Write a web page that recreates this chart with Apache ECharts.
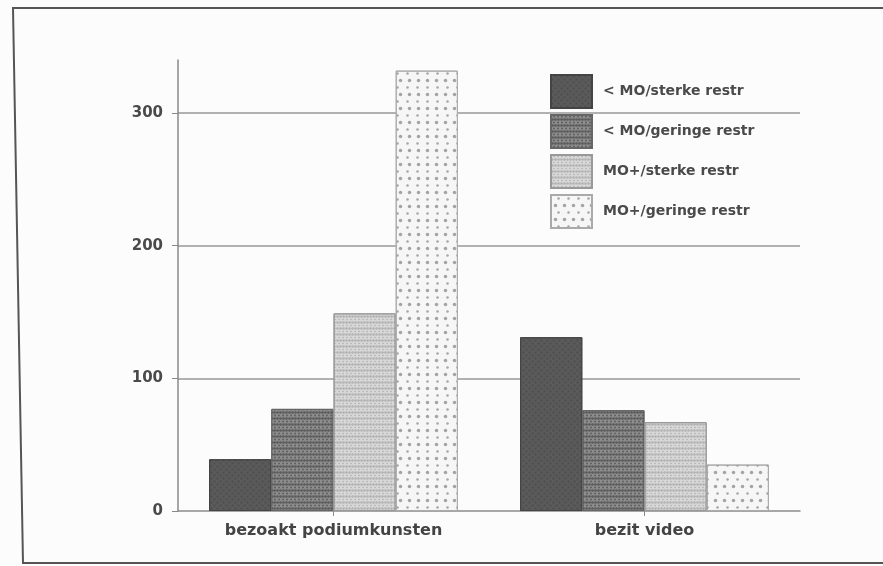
<!DOCTYPE html>
<html>
<head>
<meta charset="utf-8">
<script src="https://cdn.jsdelivr.net/npm/echarts@6/dist/echarts.min.js"></script>
<style>
  html, body { margin: 0; padding: 0; background: #fcfcfc; }
  #chart { width: 883px; height: 566px; }
</style>
</head>
<body>
<div id="chart"></div>
<script>
const categories = ['bezoakt podiumkunsten', 'bezit video']
const seriesNames = ['< MO/sterke restr', '< MO/geringe restr', 'MO+/sterke restr', 'MO+/geringe restr']
const moSterk = [39, 131]
const moGering = [77, 76]
const moPlusSterk = [149, 67]
const moPlusGering = [332, 35]
const yTicks = [0, 100, 200, 300]

const font = 'DejaVu Sans'

// grey fills with dot textures, like the printed original
const styles = [
    { color: '#5a5a5a', borderColor: '#444', decal: { symbol: 'rect', symbolSize: 0.6, color: 'rgba(40,40,40,0.25)', dashArrayX: [[3, 3], [0, 3, 3, 0]], dashArrayY: [3, 0] } },
    { color: '#8d8d8d', borderColor: '#666', decal: { symbol: 'circle', symbolSize: 0.9, color: 'rgba(50,50,50,0.55)', dashArrayX: [[3, 0], [0, 1.5, 1.5, 0]], dashArrayY: [3, 0] } },
    { color: '#d8d8d8', borderColor: '#999', decal: { symbol: 'circle', symbolSize: 0.8, color: 'rgba(130,130,130,0.45)', dashArrayX: [[2.5, 0], [0, 1.25, 1.25, 0]], dashArrayY: [2.5, 0] } },
    { color: '#f6f6f6', borderColor: '#aaa', decal: { symbol: 'circle', symbolSize: 0.5, color: 'rgba(110,110,110,0.6)', dashArrayX: [[9, 0], [0, 4.5, 4.5, 0]], dashArrayY: [7, 0] } }
]
const values = [moSterk, moGering, moPlusSterk, moPlusGering]

let Charts = echarts.init(document.getElementById('chart'))
Charts.setOption({
    backgroundColor: '#fcfcfc',
    animation: false,
    graphic: [{
        type: 'polyline',
        shape: { points: [[895, 8], [13, 8], [23, 563], [895, 563]] },
        style: { stroke: '#555', lineWidth: 2, fill: null },
        silent: true
    }],
    legend: {
        data: seriesNames,
        orient: 'vertical',
        left: 550,
        top: 74,
        padding: 0,
        itemWidth: 41,
        itemHeight: 33,
        itemGap: 5,
        icon: 'rect',
        textStyle: { fontFamily: font, fontSize: 14, fontWeight: 'bold', color: '#4a4a4a', padding: [0, 0, 0, 6] }
    },
    grid: {
        left: 178,
        right: 83,
        top: 60,
        bottom: 55,
        containLabel: false
    },
    xAxis: {
        type: 'category',
        data: categories,
        axisTick: {
            show: true,
            alignWithLabel: true,
            length: 5,
            lineStyle: { color: '#888' }
        },
        axisLine: {
            lineStyle: { color: '#8a8a8a', width: 1.5 }
        },
        axisLabel: {
            margin: 12,
            fontFamily: font,
            fontSize: 16,
            fontWeight: 'bold',
            color: '#444'
        }
    },
    yAxis: {
        type: 'value',
        min: 0,
        max: 340,
        interval: 100,
        axisLine: {
            show: true,
            lineStyle: { color: '#8a8a8a', width: 1.5 }
        },
        axisTick: {
            show: true,
            length: 6,
            customValues: yTicks,
            lineStyle: { color: '#888' }
        },
        axisLabel: {
            customValues: yTicks,
            margin: 15,
            fontFamily: font,
            fontSize: 15,
            fontWeight: 'bold',
            color: '#4a4a4a'
        },
        splitLine: {
            showMinLine: false,
            showMaxLine: true,
            lineStyle: { color: '#999', width: 1.5 }
        }
    },
    series: seriesNames.map((name, i) => ({
        name: name,
        type: 'bar',
        data: values[i],
        barGap: '0%',
        barCategoryGap: '20%',
        itemStyle: Object.assign({ borderWidth: 1 }, styles[i])
    }))
})
</script>
</body>
</html>
